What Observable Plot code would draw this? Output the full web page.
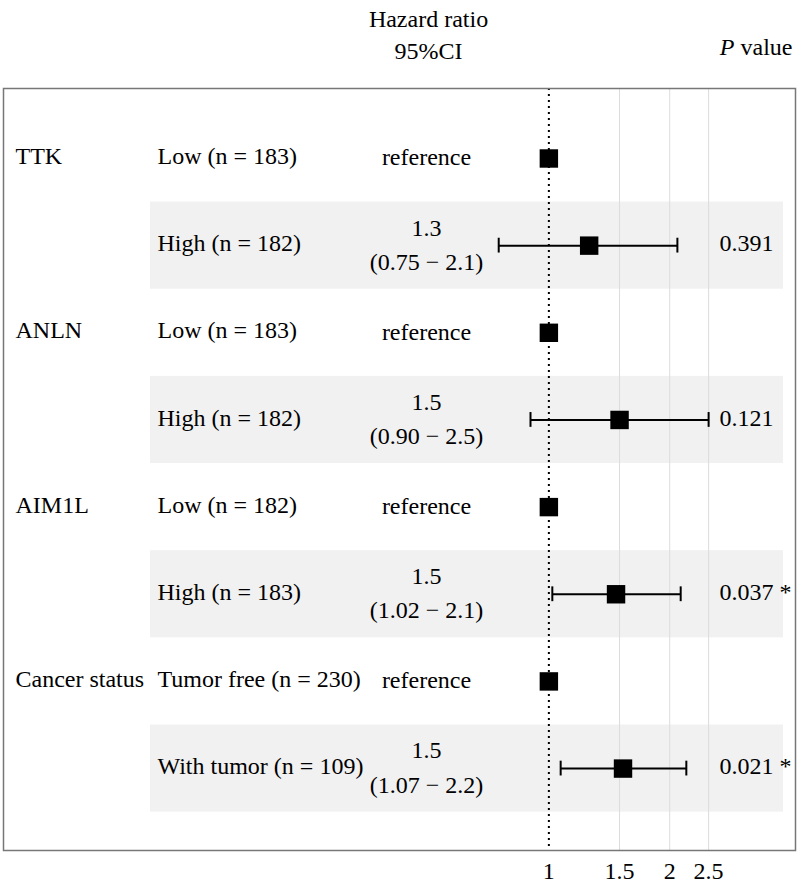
<!DOCTYPE html>
<html>
<head>
<meta charset="utf-8">
<script src="https://cdn.jsdelivr.net/npm/d3@7"></script>
<script src="https://cdn.jsdelivr.net/npm/@observablehq/plot@0.6"></script>
<style>
  html, body { margin: 0; padding: 0; background: #fff; }
  #chart svg { display: block; }
</style>
</head>
<body>
<div id="chart"></div>
<script>
// ---- data ----
const variables = ["TTK", "", "ANLN", "", "AIM1L", "", "Cancer status", ""];
const levels = ["Low (n = 183)", "High (n = 182)", "Low (n = 183)", "High (n = 182)",
                "Low (n = 182)", "High (n = 183)", "Tumor free (n = 230)", "With tumor (n = 109)"];
const hr    = [1, 1.26, 1, 1.50, 1, 1.47, 1, 1.53];
const lower = [null, 0.75, null, 0.90, null, 1.02, null, 1.07];
const upper = [null, 2.09, null, 2.50, null, 2.13, null, 2.20];
const hrLabels = ["reference", "1.3\n(0.75 \u2212 2.1)", "reference", "1.5\n(0.90 \u2212 2.5)",
                  "reference", "1.5\n(1.02 \u2212 2.1)", "reference", "1.5\n(1.07 \u2212 2.2)"];
const pLabels = ["", "0.391", "", "0.121", "", "0.037 *", "", "0.021 *"];
const xTicks = [1, 1.5, 2, 2.5];

const rows = levels.map((lv, i) => ({
  row: i + 1, variable: variables[i], level: lv, hr: hr[i],
  lower: lower[i], upper: upper[i], hrLabel: hrLabels[i], p: pLabels[i]
}));
const ciRows = rows.filter(d => d.lower != null);
const FONT = "Liberation Serif, Times New Roman, serif";
const FS = 24;

const chart = Plot.plot({
  width: 800,
  height: 890,
  marginTop: 88,
  marginBottom: 40,
  marginLeft: 3,
  marginRight: 5,
  style: { fontFamily: FONT, fontSize: FS + "px", color: "#000", background: "#fff" },
  x: { type: "log", domain: [0.0438, 4.115], ticks: xTicks, tickFormat: d => String(d),
       tickSize: 0, tickPadding: 11, label: null },
  y: { domain: [0.197, 8.94], reverse: true, axis: null },
  marks: [
    // shaded rows
    Plot.rect(ciRows, { y1: d => d.row - 0.5, y2: d => d.row + 0.5, fill: "#f1f1f1",
                        insetLeft: 147, insetRight: 12 }),
    // grid lines
    Plot.ruleX(xTicks.filter(t => t !== 1), { stroke: "#dcdcdc", strokeWidth: 1 }),
    // reference line
    Plot.ruleX([1], { stroke: "#000", strokeWidth: 2, strokeDasharray: "2,4" }),
    // CI lines
    Plot.link(ciRows, { x1: "lower", x2: "upper", y1: "row", y2: "row", stroke: "#000", strokeWidth: 2 }),
    Plot.ruleX(ciRows, { x: "lower", y1: d => d.row - 0.085, y2: d => d.row + 0.085, stroke: "#000", strokeWidth: 2 }),
    Plot.ruleX(ciRows, { x: "upper", y1: d => d.row - 0.085, y2: d => d.row + 0.085, stroke: "#000", strokeWidth: 2 }),
    // estimates
    Plot.dot(rows, { x: "hr", y: "row", symbol: "square", r: 10.4, fill: "#000", stroke: "none" }),
    // text columns
    Plot.text(rows, { y: "row", text: "variable", frameAnchor: "left", dx: 12, dy: -2, textAnchor: "start",
                      fontSize: FS, fill: "#000" }),
    Plot.text(rows, { y: "row", text: "level", frameAnchor: "left", dx: 154, dy: -2, textAnchor: "start",
                      fontSize: FS, fill: "#000" }),
    Plot.text(rows, { y: "row", text: "hrLabel", frameAnchor: "left", dx: 423, dy: -4, textAnchor: "middle",
                      lineAnchor: "middle", lineHeight: 1.42, fontSize: FS, fill: "#000" }),
    Plot.text(rows, { y: "row", text: "p", frameAnchor: "left", dx: 716, dy: -2, textAnchor: "start",
                      fontSize: FS, fill: "#000" }),
    // headers
    Plot.text(["Hazard ratio\n95%CI"], { frameAnchor: "top-left", dx: 425, dy: -56, textAnchor: "middle",
                      lineAnchor: "middle", lineHeight: 1.35, fontSize: FS, fill: "#000" }),
    Plot.text(["P value"], { frameAnchor: "top-right", dx: -3, dy: -41, textAnchor: "end",
                      lineAnchor: "middle", fontSize: FS, fill: "#000" }),
    Plot.frame({ stroke: "#777", strokeWidth: 1.5 })
  ]
});

// italicize the "P" in the header
d3.select(chart).selectAll("text").filter(function() { return this.textContent === "P value"; })
  .each(function() {
    const t = d3.select(this);
    t.text(null);
    t.append("tspan").attr("font-style", "italic").text("P");
    t.append("tspan").text(" value");
  });

document.getElementById("chart").appendChild(chart);
</script>
</body>
</html>
